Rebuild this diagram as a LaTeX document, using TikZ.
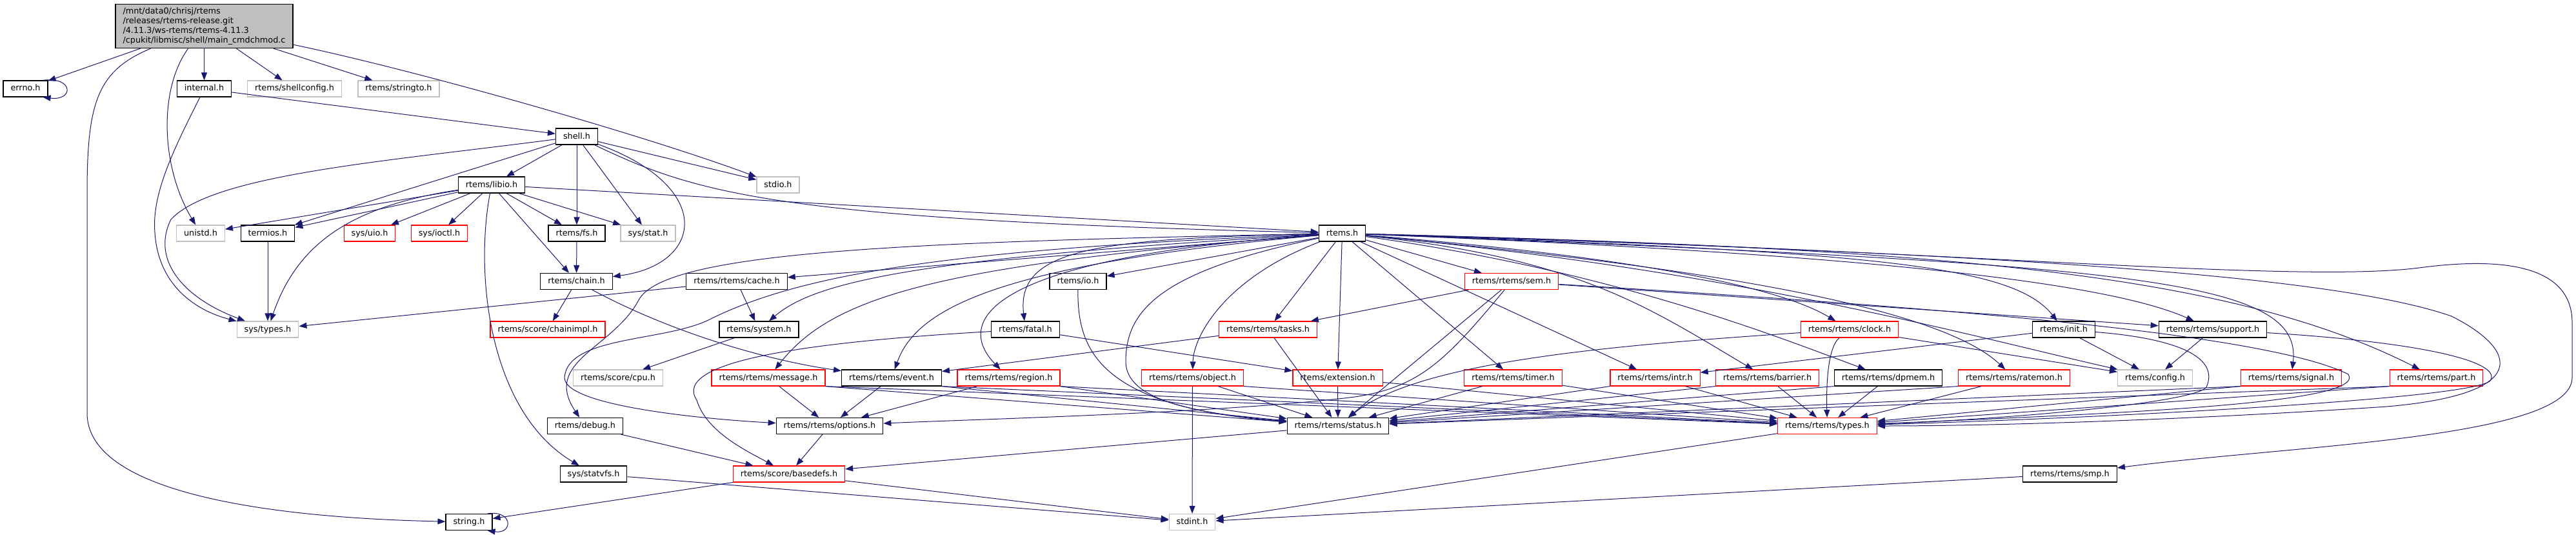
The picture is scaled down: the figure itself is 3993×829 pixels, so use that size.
\documentclass[tikz,border=0pt]{standalone}
\usepackage{fontspec}
\setmainfont{DejaVu Sans}
\usetikzlibrary{arrows.meta}

\definecolor{edgeblue}{RGB}{25,25,112}
\definecolor{grey75}{RGB}{191,191,191}
\definecolor{truncred}{RGB}{255,0,0}
\newcommand{\incfont}{\fontsize{12.8pt}{14.8pt}\selectfont}

\tikzset{
  box/.style={draw=black, line width=1.2pt, fill=white, font=\incfont, inner xsep=11.5pt},
  hdr/.style={box, minimum height=25pt, inner ysep=0pt, text height=9.6pt, text depth=2.6pt},
  hdrred/.style={hdr, draw=truncred},
  hdrext/.style={hdr, draw=grey75},
  dep/.style={draw=edgeblue, line width=1pt, -{Triangle[length=12pt,width=9pt]}}
}

\begin{document}
\begin{tikzpicture}[x=1pt, y=-1pt]
\useasboundingbox (0,0) rectangle (3993,829);

% source file
\node[box, fill=grey75, align=left, inner ysep=5.5pt] (main) at (316.5,40.5) {/mnt/data0/chrisj/rtems\\/releases/rtems-release.git\\/4.11.3/ws-rtems/rtems-4.11.3\\/cpukit/libmisc/shell/main\_cmdchmod.c};

% direct includes
\node[hdr] (errno) at (39.5,137.5) {errno.h};
\node[hdr] (internal) at (316.5,137.5) {internal.h};
\node[hdrext] (shellcfg) at (456.5,137.5) {rtems/shellconfig.h};
\node[hdrext] (stringto) at (618,137.5) {rtems/stringto.h};

\node[hdr] (shell) at (894,211.5) {shell.h};
\node[hdr] (libio) at (762,286.5) {rtems/libio.h};
\node[hdrext] (stdio) at (1206,286.5) {stdio.h};

\node[hdrext] (unistd) at (311,361.5) {unistd.h};
\node[hdr] (termios) at (415,361.5) {termios.h};
\node[hdrred] (sysuio) at (573,361.5) {sys/uio.h};
\node[hdrred] (sysioctl) at (681,361.5) {sys/ioctl.h};
\node[hdr] (fs) at (894,361.5) {rtems/fs.h};
\node[hdrext] (sysstat) at (1004.5,361.5) {sys/stat.h};
\node[hdr] (rtemsh) at (2080.5,361.5) {rtems.h};

\node[hdr] (chain) at (893.5,436) {rtems/chain.h};
\node[hdr] (cache) at (1142,436) {rtems/rtems/cache.h};
\node[hdr] (io) at (1671,436) {rtems/io.h};
\node[hdrred] (sem) at (2343,436) {rtems/rtems/sem.h};

\node[hdrext] (systypes) at (415,510.5) {sys/types.h};
\node[hdrred] (chainimpl) at (849,510.5) {rtems/score/chainimpl.h};
\node[hdr] (system) at (1176.5,510.5) {rtems/system.h};
\node[hdr] (fatal) at (1589.5,510.5) {rtems/fatal.h};
\node[hdrred] (tasks) at (1965.5,510.5) {rtems/rtems/tasks.h};
\node[hdrred] (clock) at (2867,510.5) {rtems/rtems/clock.h};
\node[hdr] (init) at (3199,510.5) {rtems/init.h};
\node[hdr] (support) at (3430,510.5) {rtems/rtems/support.h};

\node[hdrext] (cpu) at (958,585.5) {rtems/score/cpu.h};
\node[hdrred] (message) at (1191,585.5) {rtems/rtems/message.h};
\node[hdr] (event) at (1382,585.5) {rtems/rtems/event.h};
\node[hdrred] (region) at (1563.5,585.5) {rtems/rtems/region.h};
\node[hdrred] (object) at (1848.5,585.5) {rtems/rtems/object.h};
\node[hdrred] (extension) at (2073.5,585.5) {rtems/extension.h};
\node[hdrred] (timer) at (2345.5,585.5) {rtems/rtems/timer.h};
\node[hdrred] (intr) at (2565.5,585.5) {rtems/rtems/intr.h};
\node[hdrred] (barrier) at (2739.5,585.5) {rtems/rtems/barrier.h};
\node[hdr] (dpmem) at (2927,585.5) {rtems/rtems/dpmem.h};
\node[hdrred] (ratemon) at (3122,585.5) {rtems/rtems/ratemon.h};
\node[hdrext] (config) at (3340.5,585.5) {rtems/config.h};
\node[hdrred] (signal) at (3551.5,585.5) {rtems/rtems/signal.h};
\node[hdrred] (part) at (3776.5,585.5) {rtems/rtems/part.h};

\node[hdr] (debug) at (907,660) {rtems/debug.h};
\node[hdr] (options) at (1286,660) {rtems/rtems/options.h};
\node[hdr] (status) at (2074,660) {rtems/rtems/status.h};
\node[hdrred] (types) at (2832.5,660) {rtems/rtems/types.h};

\node[hdr] (statvfs) at (920,734.5) {sys/statvfs.h};
\node[hdrred] (basedefs) at (1223,734.5) {rtems/score/basedefs.h};
\node[hdr] (smp) at (3208.5,734.5) {rtems/rtems/smp.h};

\node[hdr] (string) at (727,809) {string.h};
\node[hdrext] (stdint) at (1848,809) {stdint.h};

% main file
\draw[dep] (main) -- (errno);
\draw[dep] (main) -- (internal);
\draw[dep] (main) -- (shellcfg);
\draw[dep] (main) -- (stringto);
\draw[dep] (main) .. controls (650,110) and (1000,210) .. (stdio);
\draw[dep] (main) .. controls (245,140) and (250,260) .. (unistd);
\draw[dep] (main) .. controls (150,110) and (135,160) .. (135,300) -- (135,640) .. controls (135,790) and (550,805) .. (string);
\draw[dep] ([xshift=-8pt]errno.north east) .. controls +(48,-6) and +(48,6) .. ([xshift=-8pt]errno.south east);

% internal.h and shell.h
\draw[dep] (internal) -- (shell);
\draw[dep] (internal) .. controls (270,230) and (235,300) .. (240,360) .. controls (245,440) and (300,480) .. (systypes);
\draw[dep] (shell) -- (libio);
\draw[dep] (shell) -- (fs);
\draw[dep] (shell) -- (sysstat);
\draw[dep] (shell) -- (stdio);
\draw[dep] (shell) -- (termios);
\draw[dep] (shell) .. controls (600,250) and (330,270) .. (265,340) .. controls (235,400) and (280,460) .. (systypes);
\draw[dep] (shell) .. controls (1110,290) and (1090,410) .. (chain);
\draw[dep] (shell) .. controls (1080,300) and (1200,340) .. (rtemsh);

% rtems/libio.h
\draw[dep] (libio) -- (unistd);
\draw[dep] (libio) -- (termios);
\draw[dep] (libio) -- (sysuio);
\draw[dep] (libio) -- (sysioctl);
\draw[dep] (libio) -- (fs);
\draw[dep] (libio) -- (sysstat);
\draw[dep] (libio) -- (chain);
\draw[dep] (libio) -- (rtemsh);
\draw[dep] (libio) .. controls (540,320) and (460,380) .. (systypes);
\draw[dep] (libio) .. controls (735,430) and (760,640) .. (statvfs);

\draw[dep] (termios) -- (systypes);
\draw[dep] (fs) -- (chain);
\draw[dep] (chain) -- (chainimpl);
\draw[dep] (chain) .. controls (1050,520) and (1200,560) .. (event);
\draw[dep] (cache) -- (systypes);
\draw[dep] (cache) -- (system);
\draw[dep] (system) -- (cpu);

% rtems.h
\draw[dep] (rtemsh) -- (cache);
\draw[dep] (rtemsh) .. controls (1400,400) and (1260,440) .. (system);
\draw[dep] (rtemsh) .. controls (1400,375) and (1030,390) .. (990,465) .. controls (950,540) and (840,560) .. (debug);
\draw[dep] (rtemsh) .. controls (1500,385) and (1250,420) .. (1100,495) .. controls (1030,530) and (880,520) .. (875,585) .. controls (875,630) and (1100,650) .. (options);
\draw[dep] (rtemsh) .. controls (1450,410) and (1290,460) .. (message);
\draw[dep] (rtemsh) .. controls (1540,410) and (1420,480) .. (event);
\draw[dep] (rtemsh) .. controls (1520,400) and (1480,500) .. (region);
\draw[dep] (rtemsh) .. controls (1700,370) and (1575,385) .. (fatal);
\draw[dep] (rtemsh) -- (io);
\draw[dep] (rtemsh) -- (tasks);
\draw[dep] (rtemsh) .. controls (1900,430) and (1850,520) .. (object);
\draw[dep] (rtemsh) -- (extension);
\draw[dep] (rtemsh) .. controls (1800,420) and (1745,480) .. (1745,560) .. controls (1745,620) and (1850,640) .. (status);
\draw[dep] (rtemsh) -- (timer);
\draw[dep] (rtemsh) -- (sem);
\draw[dep] (rtemsh) -- (intr);
\draw[dep] (rtemsh) .. controls (2450,400) and (2560,480) .. (barrier);
\draw[dep] (rtemsh) .. controls (2500,420) and (2750,520) .. (dpmem);
\draw[dep] (rtemsh) .. controls (2600,410) and (3000,470) .. (ratemon);
\draw[dep] (rtemsh) .. controls (2500,395) and (2750,440) .. (clock);
\draw[dep] (rtemsh) .. controls (2900,390) and (3120,410) .. (init);
\draw[dep] (rtemsh) .. controls (2700,420) and (3050,520) .. (config);
\draw[dep] (rtemsh) .. controls (2800,390) and (3250,430) .. (support);
\draw[dep] (rtemsh) .. controls (3300,410) and (3570,430) .. (signal);
\draw[dep] (rtemsh) .. controls (3000,385) and (3450,420) .. (part);
\draw[dep] (rtemsh) .. controls (3000,390) and (3600,420) .. (3800,490) .. controls (3900,540) and (3930,610) .. (3700,630) .. controls (3400,650) and (3100,660) .. (types);
\draw[dep] (rtemsh) .. controls (3000,385) and (3550,440) .. (3750,415) .. controls (3900,395) and (3987,420) .. (3987,500) -- (3987,585) .. controls (3987,680) and (3550,690) .. (smp);

% second level
\draw[dep] (sem) -- (tasks);
\draw[dep] (sem) -- (support);
\draw[dep] (sem) -- (status);
\draw[dep] (sem) .. controls (2240,560) and (2200,600) .. (2100,615) .. controls (1900,640) and (1500,650) .. (options);
\draw[dep] (sem) .. controls (2900,470) and (3500,510) .. (3640,580) .. controls (3670,625) and (3300,640) .. (types);
\draw[dep] (tasks) -- (event);
\draw[dep] (tasks) -- (status);
\draw[dep] (fatal) -- (extension);
\draw[dep] (fatal) .. controls (1250,530) and (1040,560) .. (1080,620) .. controls (1095,670) and (1160,700) .. (basedefs);
\draw[dep] (io) .. controls (1670,540) and (1700,630) .. (status);
\draw[dep] (clock) .. controls (2500,535) and (2200,560) .. (status);
\draw[dep] (clock) .. controls (2831,540) and (2831,610) .. (types);
\draw[dep] (clock) -- (config);
\draw[dep] (init) -- (intr);
\draw[dep] (init) -- (config);
\draw[dep] (init) .. controls (3380,525) and (3440,555) .. (3420,600) .. controls (3400,625) and (3100,650) .. (types);
\draw[dep] (support) -- (config);
\draw[dep] (support) .. controls (3750,530) and (3880,560) .. (3860,590) .. controls (3830,620) and (3200,650) .. (types);

% third level
\draw[dep] (message) -- (options);
\draw[dep] (message.south east) -- (status);
\draw[dep] (message.south east) -- (types);
\draw[dep] (event) -- (options);
\draw[dep] (event.south east) -- (status);
\draw[dep] (event.south east) -- (types);
\draw[dep] (region) -- (options);
\draw[dep] (region.south east) -- (status);
\draw[dep] (region.south east) -- (types);
\draw[dep] (object) -- (status);
\draw[dep] (object.south east) -- (types);
\draw[dep] (object) -- (stdint);
\draw[dep] (extension) -- (status);
\draw[dep] (extension) -- (types);
\draw[dep] (timer) -- (status);
\draw[dep] (timer) -- (types);
\draw[dep] (intr.south west) -- (status);
\draw[dep] (intr) -- (types);
\draw[dep] (barrier.south west) -- (status);
\draw[dep] (barrier) -- (types);
\draw[dep] (dpmem.south west) -- (status);
\draw[dep] (dpmem) -- (types);
\draw[dep] (ratemon.south west) -- (status);
\draw[dep] (ratemon) -- (types);
\draw[dep] (signal.south west) -- (status);
\draw[dep] (signal.south west) -- (types);
\draw[dep] (part.south west) -- (status);
\draw[dep] (part.south west) -- (types);

% bottom
\draw[dep] (debug) -- (basedefs);
\draw[dep] (options) -- (basedefs);
\draw[dep] (status) -- (basedefs);
\draw[dep] (statvfs) -- (stdint);
\draw[dep] (basedefs) -- (string);
\draw[dep] (basedefs) -- (stdint);
\draw[dep] (types) -- (stdint);
\draw[dep] (smp) -- (stdint);
\draw[dep] ([xshift=-8pt]string.north east) .. controls +(40,-6) and +(40,6) .. ([xshift=-8pt]string.south east);
\end{tikzpicture}
\end{document}
